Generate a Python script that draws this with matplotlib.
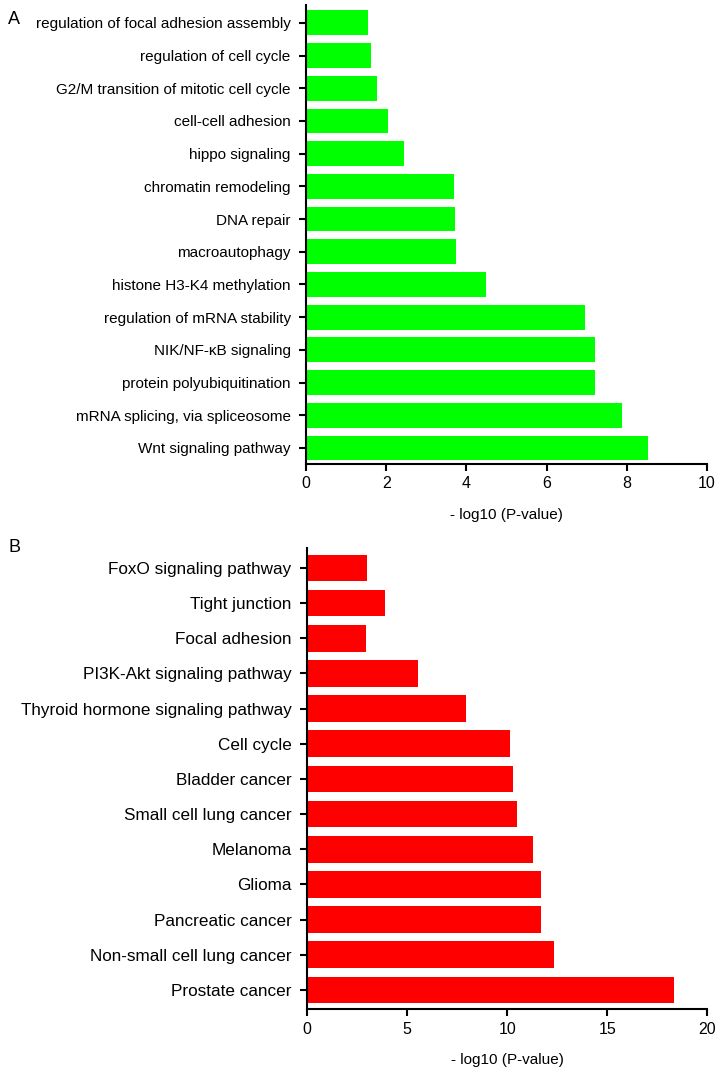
import matplotlib.pyplot as plt

plt.rcParams['font.family'] = ['Liberation Sans', 'DejaVu Sans']

# panel A: GO terms (bottom to top)
go_terms = ['Wnt signaling pathway', 'mRNA splicing, via spliceosome',
            'protein polyubiquitination', 'NIK/NF-\u03baB signaling',
            'regulation of mRNA stability', 'histone H3-K4 methylation',
            'macroautophagy', 'DNA repair', 'chromatin remodeling',
            'hippo signaling', 'cell-cell adhesion',
            'G2/M transition of mitotic cell cycle', 'regulation of cell cycle',
            'regulation of focal adhesion assembly']
go_vals = [8.52, 7.88, 7.2, 7.2, 6.95, 4.48, 3.75, 3.72, 3.68, 2.45, 2.05,
           1.78, 1.62, 1.55]

# panel B: KEGG pathways (bottom to top)
kegg_terms = ['Prostate cancer', 'Non-small cell lung cancer',
              'Pancreatic cancer', 'Glioma', 'Melanoma',
              'Small cell lung cancer', 'Bladder cancer', 'Cell cycle',
              'Thyroid hormone signaling pathway', 'PI3K-Akt signaling pathway',
              'Focal adhesion', 'Tight junction', 'FoxO signaling pathway']
kegg_vals = [18.35, 12.36, 11.7, 11.7, 11.3, 10.5, 10.3, 10.15, 7.95, 5.55,
             2.97, 3.9, 3.0]

fig = plt.figure(figsize=(7.2, 10.7), dpi=100)
ax1 = fig.add_axes([0.425, 0.5664, 0.557, 0.429])
ax2 = fig.add_axes([0.4264, 0.057, 0.5559, 0.431])


def style(ax, terms, vals, color, xmax, step, lo, hi, fs):
    pos = range(len(terms))
    ax.barh(pos, vals, height=0.76, color=color)
    ax.set_yticks(list(pos))
    ax.set_yticklabels(terms, fontsize=fs)
    ax.set_ylim(lo, hi)
    ax.set_xlim(0, xmax)
    ax.set_xticks(range(0, xmax + 1, step))
    ax.tick_params(axis='x', labelsize=11.5, length=5, width=1.5, pad=4)
    ax.tick_params(axis='y', length=5, width=1.5, pad=6)
    for s in ['top', 'right']:
        ax.spines[s].set_visible(False)
    for s in ['left', 'bottom']:
        ax.spines[s].set_linewidth(1.5)
    ax.set_xlabel('- log10 (P-value)', fontsize=11, labelpad=12)


style(ax1, go_terms, go_vals, '#00ff00', 10, 2, -0.49, 13.55, 11)
style(ax2, kegg_terms, kegg_vals, '#ff0000', 20, 5, -0.54, 12.57, 12.3)

fig.text(8 / 720, 1 - 20 / 1070, 'A', fontsize=13, va='center')
fig.text(8 / 720, 1 - 548 / 1070, 'B', fontsize=13, va='center')

fig.savefig('out.png', dpi=100)
